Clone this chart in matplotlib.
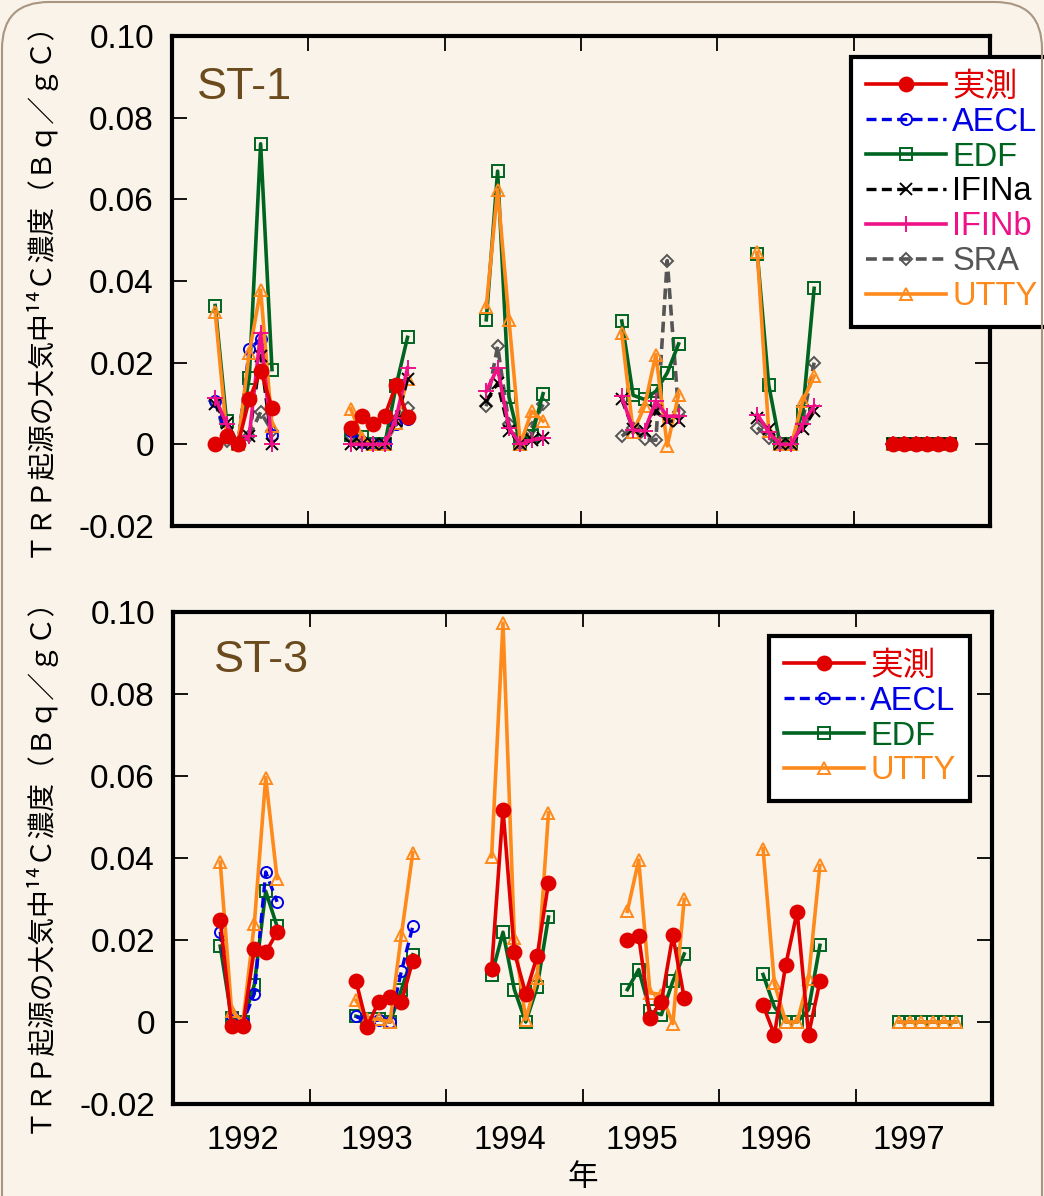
import numpy as np
import matplotlib
matplotlib.use('Agg')
import matplotlib.pyplot as plt
from matplotlib.patches import FancyBboxPatch

plt.rcParams['font.family'] = ['Liberation Sans', 'Noto Sans CJK JP', 'DejaVu Sans']

# ---------------- data ----------------
years = ['1992', '1993', '1994', '1995', '1996', '1997']
months = [4, 5, 6, 7, 8, 9]
zeros = [0, 0, 0, 0, 0, 0]

# ST-1 panel (one list of six monthly values per year, None = no data)
st1_jisoku = [[0, 0.002, 0, 0.011, 0.018, 0.009],
              [0.004, 0.007, 0.005, 0.007, 0.0146, 0.0068],
              None, None, None, zeros]
st1_aecl = [[0.0106, 0.002, 0, 0.0233, 0.0258, 0.0024],
            [0.0033, 0.0005, 0, 0, 0.0049, 0.0063],
            None, None, None, zeros]
st1_edf = [[0.034, 0.0057, 0, 0.0163, 0.0736, 0.0183],
           [0.0024, 0.0019, 0, 0, 0.0144, 0.0262],
           [0.0305, 0.0669, 0.0116, 0, 0.002, 0.0124],
           [0.0302, 0.012, 0.011, 0.013, 0.0175, 0.0246],
           [0.0466, 0.0146, 0, 0, 0.0079, 0.0382],
           zeros]
st1_ifina = [[0.0098, 0.0053, 0, 0.002, 0.0217, 0],
             [0, 0, 0, 0, 0.0057, 0.0159],
             [0.0106, 0.015, 0.0033, 0, 0.001, 0.0015],
             [0.011, 0.0037, 0.0033, 0.0081, 0.0057, 0.0057],
             [0.0065, 0.0037, 0, 0, 0.0037, 0.0081],
             zeros]
st1_ifinb = [[0.0114, 0.005, 0, 0.002, 0.0273, 0],
             [0, 0, 0, 0, 0.0065, 0.0187],
             [0.013, 0.0187, 0.004, 0, 0.001, 0.0016],
             [0.0118, 0.0035, 0.0033, 0.0106, 0.0069, 0.0069],
             [0.0073, 0.003, 0, 0, 0.0051, 0.0095],
             zeros]
st1_sra = [[0.0106, 0.0008, 0, 0.002, 0.0079, 0.0033],
           [0.002, 0.001, 0, 0, 0.006, 0.009],
           [0.0093, 0.024, 0.0049, 0, 0.0041, 0.0098],
           [0.002, 0.004, 0.0012, 0.001, 0.045, 0.0079],
           [0.0041, 0.0016, 0, 0, 0.006, 0.02],
           zeros]
st1_utty = [[0.0325, 0.0028, 0, 0.0224, 0.0378, 0.0045],
            [0.0087, 0.0016, 0, 0, 0.0053, 0.0161],
            [0.0336, 0.0624, 0.0305, 0, 0.0081, 0.0057],
            [0.0272, 0.003, 0.0093, 0.022, -0.0004, 0.0122],
            [0.047, 0.0033, 0, 0, 0.0106, 0.0167],
            zeros]

# ST-3 panel
st3_jisoku = [[0.025, -0.001, -0.001, 0.0179, 0.017, 0.0219],
              [0.0101, -0.0011, 0.005, 0.006, 0.0049, 0.015],
              [0.013, 0.0518, 0.017, 0.0069, 0.016, 0.034],
              [0.0201, 0.0209, 0.001, 0.005, 0.0211, 0.0059],
              [0.0041, -0.0031, 0.014, 0.0269, -0.0031, 0.0099],
              None]
st3_aecl = [[0.022, 0.0015, 0, 0.0069, 0.0366, 0.0293],
            [0.0014, 0, 0.0005, 0, 0.0124, 0.0233],
            None, None, None, None]
st3_edf = [[0.0185, 0.001, 0, 0.0091, 0.0319, 0.0233],
           [0.0014, 0.0007, 0.0007, 0, 0.0079, 0.0164],
           [0.0114, 0.0219, 0.0079, 0, 0.0085, 0.0256],
           [0.0079, 0.0128, 0.0026, 0.0018, 0.0099, 0.0166],
           [0.0116, 0.0037, 0, 0, 0.003, 0.0187],
           zeros]
st3_utty = [[0.039, 0.0028, 0, 0.024, 0.0596, 0.035],
            [0.0053, 0.0007, 0.0007, 0, 0.0213, 0.0413],
            [0.0403, 0.0973, 0.0205, 0.0006, 0.0107, 0.051],
            [0.027, 0.0395, 0.0071, 0.0067, -0.0004, 0.0299],
            [0.0423, 0.0094, 0, 0, 0.0106, 0.0382],
            zeros]

y_ticks = [-0.02, 0, 0.02, 0.04, 0.06, 0.08, 0.10]
y_ticklabels = ['-0.02', '0', '0.02', '0.04', '0.06', '0.08', '0.10']

# ---------------- styles / layout ----------------
BG = '#faf3e9'
YEAR_SPAN = 11.93      # horizontal spacing of yearly clusters (axis units)
styles = {
    '実測': dict(color='#e00000', ls='-', marker='o', ms=10, mfc='#e00000', mec='#e00000', lw=2.6, z=9),
    'AECL': dict(color='#0000e6', ls=(0, (3, 1.6)), marker='o', ms=8, mfc='none', mec='#0000e6', lw=2.4, z=5),
    'EDF': dict(color='#006421', ls='-', marker='s', ms=8, mfc='none', mec='#006421', lw=2.6, z=4),
    'IFINa': dict(color='#000000', ls=(0, (3, 1.6)), marker='x', ms=8, mfc='none', mec='#000000', lw=2.4, z=6),
    'IFINb': dict(color='#ee1188', ls='-', marker='+', ms=11, mfc='none', mec='#ee1188', lw=2.6, z=7),
    'SRA': dict(color='#555555', ls=(0, (3, 1.6)), marker='D', ms=6, mfc='none', mec='#555555', lw=2.6, z=3),
    'UTTY': dict(color='#ff8a1c', ls='-', marker='^', ms=9, mfc='none', mec='#ff8a1c', lw=2.6, z=5),
}


def build(series, offset):
    xs, ys = [], []
    for yi, vals in enumerate(series):
        if vals is None:
            continue
        for m, v in zip(months, vals):
            xs.append(YEAR_SPAN * yi + m - 0.2 + offset)
            ys.append(v)
        xs.append(np.nan)
        ys.append(np.nan)
    return np.array(xs, float), np.array(ys, float)


W, H = 1044, 1196
fig = plt.figure(figsize=(W / 100, H / 100), dpi=100, facecolor=BG)

# rounded outer frame
frame = FancyBboxPatch((2 / W, -0.2), (W - 4) / W, 1.2 - 2 / H,
                       boxstyle='round,pad=0,rounding_size=0.045',
                       transform=fig.transFigure, fc='none', ec='#a89682', lw=1.5,
                       mutation_aspect=W / H)
fig.patches.append(frame)

ax1 = fig.add_axes([172 / W, 1 - 526 / H, 818 / W, 490 / H])
ax2 = fig.add_axes([173 / W, 1 - 1104 / H, 819 / W, 492 / H])

label_pos = [6.15, 17.9, 29.6, 41.2, 53.0, 64.7]
ylab = 'ＴＲＰ起源の大気中¹⁴Ｃ濃度（Ｂｑ／ｇＣ）'


def draw(ax, data, title, tx, ty, show_xlabels, leg_anchor, offset):
    ax.set_facecolor(BG)
    handles = []
    for name, series in data:
        st = styles[name]
        x, y = build(series, offset)
        h, = ax.plot(x, y, color=st['color'], ls=st['ls'], lw=st['lw'],
                     marker=st['marker'], ms=st['ms'], mfc=st['mfc'], mec=st['mec'],
                     mew=1.4, zorder=st['z'], label=name, clip_on=False)
        handles.append(h)
    ax.set_xlim(0, 72)
    ax.set_ylim(-0.02, 0.10)
    ax.set_yticks(y_ticks)
    ax.set_yticklabels(y_ticklabels)
    ax.set_xticks([12, 24, 36, 48, 60])
    ax.set_xticklabels([])
    ax.set_xticks(label_pos, minor=True)
    if show_xlabels:
        ax.set_xticklabels(years, minor=True)
    ax.tick_params(axis='both', which='major', direction='in', length=11, width=1.3,
                   top=True, right=True, labelsize=24, pad=13)
    ax.tick_params(axis='x', which='minor', length=0, labelsize=23.5, pad=15)
    for sp in ax.spines.values():
        sp.set_linewidth(3)
    ax.text(tx, ty, title, transform=ax.transAxes, fontsize=32.5, color='#6b4a1e',
            ha='left', va='center')
    leg = ax.legend(handles=handles, loc='upper right', bbox_to_anchor=leg_anchor,
                    bbox_transform=fig.transFigure, borderaxespad=0, numpoints=1,
                    fontsize=23.5, handlelength=2.45, handletextpad=0.2, labelspacing=0.12,
                    borderpad=0.45, fancybox=False, framealpha=1, facecolor='white',
                    edgecolor='black')
    leg.get_frame().set_linewidth(3)
    leg.set_zorder(20)
    for t, h in zip(leg.get_texts(), handles):
        t.set_color(h.get_color())
    return leg


draw(ax1, [('実測', st1_jisoku), ('AECL', st1_aecl), ('EDF', st1_edf), ('IFINa', st1_ifina),
           ('IFINb', st1_ifinb), ('SRA', st1_sra), ('UTTY', st1_utty)],
     'ST-1', 0.03, 0.894, False, (1052 / W, 1 - 57 / H), 0.0)
draw(ax2, [('実測', st3_jisoku), ('AECL', st3_aecl), ('EDF', st3_edf), ('UTTY', st3_utty)],
     'ST-3', 0.05, 0.902, True, (970 / W, 1 - 636 / H), 0.35)

for yc in (282, 858):
    fig.text(38 / W, 1 - yc / H, ylab, rotation=90, ha='center', va='center', fontsize=20,
             family=['Noto Sans CJK JP', 'DejaVu Sans'])
fig.text(583 / W, 1 - 1178 / H, '年', ha='center', va='center', fontsize=22,
         family=['Noto Sans CJK JP', 'DejaVu Sans'])

fig.savefig('out.png', dpi=100, facecolor=BG)
